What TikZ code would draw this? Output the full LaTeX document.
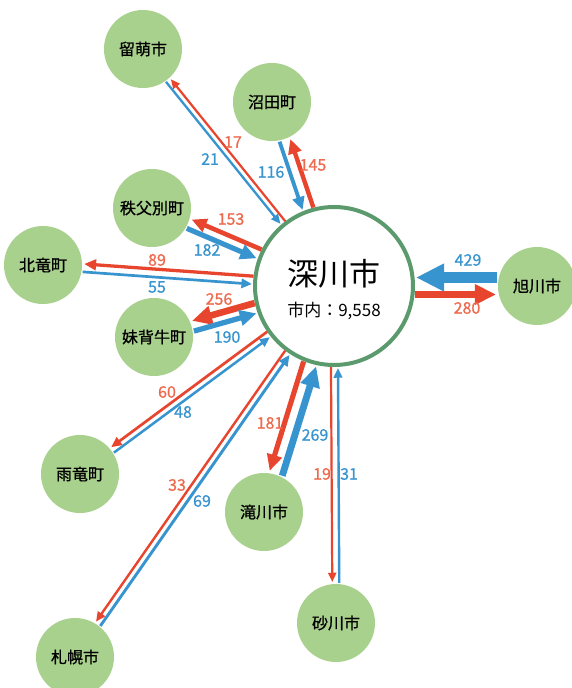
\documentclass[tikz,border=0pt]{standalone}
\usepackage{fontspec}
\setmainfont{Noto Sans CJK JP}
\newfontfamily\semib{Noto Sans CJK JP}[FakeBold=0.8]
\usetikzlibrary{arrows.meta,calc}
\definecolor{fred}{HTML}{E8452F}
\definecolor{lred}{HTML}{EE6A4E}
\definecolor{fblue}{HTML}{3894CF}
\definecolor{cgreen}{HTML}{A9D18E}
\definecolor{bgreen}{HTML}{5B9A6C}
% #1 outer node, #2 half separation, #3 red width, #4 blue width
\newcommand\flowpair[4]{%
  \draw[fred, line width=#3pt, shorten <=81pt, shorten >=41pt, -{Triangle[length=4pt 2.4, width=3pt 2.3]}]
    ($(hub)!#2pt!-90:(#1)$) -- ($(#1)!#2pt!90:(hub)$);
  \draw[fblue, line width=#4pt, shorten <=40pt, shorten >=82pt, -{Triangle[length=4pt 2.4, width=3pt 2.3]}]
    ($(#1)!#2pt!-90:(hub)$) -- ($(hub)!#2pt!90:(#1)$);
}
\begin{document}
\begin{tikzpicture}[x=1pt,y=-1pt,
  town/.style={circle, fill=cgreen, minimum size=78pt, inner sep=0pt, font=\semib\fontsize{16}{16}\selectfont},
  hub/.style={circle, draw=bgreen, line width=4pt, fill=white, minimum size=158pt, inner sep=0pt},
  num/.style={font=\semib\fontsize{16}{16}\selectfont, inner sep=0pt},
  rnum/.style={num, text=lred},
  bnum/.style={num, text=fblue}]
\useasboundingbox (0,0) rectangle (571,688);
\fill[white] (0,0) rectangle (571,688);
% nodes
\node[hub] (hub) at (334,286) {};
\node[font=\fontsize{31}{31}\selectfont] (hubname) at (334,274) {深川市};
\node[font=\fontsize{17}{17}\selectfont] (hubin) at (334,311) {市内：9,558};
\node[town] (rumoi) at (143,49) {留萌市};
\node[town] (numata) at (272,102) {沼田町};
\node[town] (chippu) at (152,208) {秩父別町};
\node[town] (hokuryu) at (43,265) {北竜町};
\node[town] (moseushi) at (154,337) {妹背牛町};
\node[town] (asahi) at (537,286) {旭川市};
\node[town] (uryu) at (80,474) {雨竜町};
\node[town] (taki) at (264,512) {滝川市};
\node[town] (suna) at (336,623) {砂川市};
\node[town] (sapporo) at (75,657) {札幌市};
% flows
\flowpair{rumoi}{2.7}{2.2}{2.3}
\flowpair{numata}{5.5}{4.4}{3.82}
\flowpair{chippu}{5}{4.56}{5.14}
\flowpair{hokuryu}{4}{3.28}{2.7}
\flowpair{moseushi}{5.2}{6.62}{5.3}
\flowpair{asahi}{8.5}{7.1}{10.08}
\flowpair{uryu}{3}{2.7}{2.5}
\flowpair{sapporo}{3}{2.4}{2.9}
\flowpair{taki}{6.7}{5.12}{6.88}
\flowpair{suna}{3.5}{2.2}{2.4}
% labels
\node[rnum] (l17) at (233,142) {17};
\node[bnum] (l21) at (210,159) {21};
\node[bnum] (l116) at (271,172) {116};
\node[rnum] (l145) at (313,165) {145};
\node[rnum] (l153) at (231,219) {153};
\node[bnum] (l182) at (207,250) {182};
\node[rnum] (l89) at (157,260) {89};
\node[bnum] (l55) at (157,287) {55};
\node[rnum] (l256) at (219,299) {256};
\node[bnum] (l190) at (227,337) {190};
\node[bnum] (l429) at (468,260) {429};
\node[rnum] (l280) at (467,308) {280};
\node[rnum] (l60) at (167,392) {60};
\node[bnum] (l48) at (183,412) {48};
\node[rnum] (l33) at (177,485) {33};
\node[bnum] (l69) at (202,501) {69};
\node[rnum] (l181) at (270,423) {181};
\node[bnum] (l269) at (315,435) {269};
\node[rnum] (l19) at (322,474) {19};
\node[bnum] (l31) at (349,474) {31};
\end{tikzpicture}
\end{document}
